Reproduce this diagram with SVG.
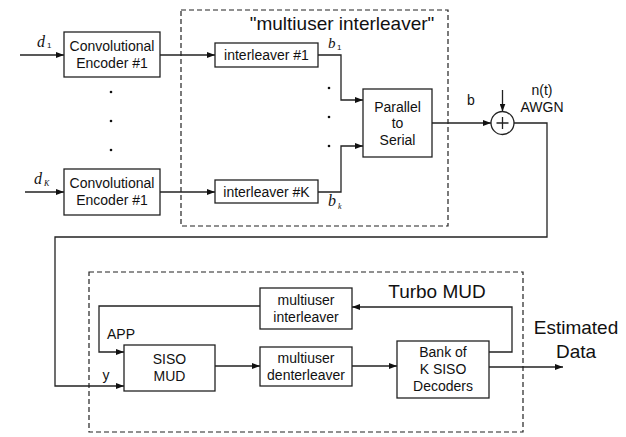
<svg xmlns="http://www.w3.org/2000/svg" width="626" height="437" viewBox="0 0 626 437">
<style>
.box{fill:#fff;stroke:#222;stroke-width:1.3}
.dash{fill:none;stroke:#222;stroke-width:1.2;stroke-dasharray:5,3}
.ln{fill:none;stroke:#222;stroke-width:1.3}
.arr{marker-end:url(#ah)}
text{font-family:"Liberation Sans",Arial,sans-serif;fill:#111}
.t{font-size:14px;text-anchor:middle}
.big{font-size:19px;text-anchor:middle}
.it{font-family:"Liberation Serif","Times New Roman",serif;font-style:italic}
.dot{fill:#111}
</style>
<defs>
<marker id="ah" markerWidth="8" markerHeight="6" refX="8" refY="3" orient="auto" markerUnits="userSpaceOnUse">
<path d="M0,0 L8,3 L0,6 z" fill="#111"/>
</marker>
</defs>

<rect class="dash" x="181" y="10" width="267" height="216"/>
<text class="big" x="342" y="29.5">"multiuser interleaver"</text>
<rect class="dash" x="89" y="272" width="434" height="160"/>
<text class="big" x="437" y="298">Turbo MUD</text>

<g id="connectors">
<line class="ln arr" x1="20" y1="55" x2="64" y2="55"/>
<line class="ln arr" x1="25" y1="192" x2="64" y2="192"/>
<line class="ln arr" x1="160" y1="55" x2="215" y2="55"/>
<line class="ln arr" x1="160" y1="192" x2="215" y2="192"/>
<polyline class="ln arr" points="318,55 341,55 341,100 363,100"/>
<polyline class="ln arr" points="318,192 341,192 341,146 363,146"/>
<line class="ln arr" x1="432" y1="123" x2="491" y2="123"/>
<line class="ln arr" x1="502.5" y1="90" x2="502.5" y2="111.5"/>
<polyline class="ln arr" points="514,123 547,123 547,237 55,237 55,386 124,386"/>
<polyline class="ln arr" points="260,306 99,306 99,352 124,352"/>
<line class="ln arr" x1="215" y1="366" x2="260" y2="366"/>
<line class="ln arr" x1="352" y1="366" x2="397" y2="366"/>
<polyline class="ln arr" points="489,352 512,352 512,307 352,307"/>
<line class="ln arr" x1="489" y1="367" x2="563" y2="367"/>
</g>

<g id="labels">
<text class="it" x="37" y="47" font-size="16">d</text><text x="47" y="48" font-size="8" font-family="Liberation Serif,serif">1</text>
<text class="it" x="34" y="184" font-size="16">d</text><text class="it" x="44" y="186" font-size="8">K</text>
<text class="it" x="328" y="48" font-size="15">b</text><text x="337" y="50" font-size="8" font-family="Liberation Serif,serif">1</text>
<text class="it" x="328" y="206" font-size="16">b</text><text class="it" x="338" y="209" font-size="8">k</text>
<text class="t" x="471" y="105">b</text>
<text class="t" x="542" y="95">n(t)</text>
<text class="t" x="542" y="112">AWGN</text>
<text class="t" x="121" y="339">APP</text>
<text class="t" x="106" y="380">y</text>
<text class="big" x="576" y="334">Estimated</text>
<text class="big" x="576" y="358">Data</text>
<circle class="dot" cx="111" cy="92" r="1.3"/>
<circle class="dot" cx="111" cy="121" r="1.3"/>
<circle class="dot" cx="111" cy="150" r="1.3"/>
<circle class="dot" cx="329" cy="88" r="1.3"/>
<circle class="dot" cx="329" cy="117" r="1.3"/>
<circle class="dot" cx="329" cy="146" r="1.3"/>
</g>

<g id="enc1"><rect class="box" x="64" y="32" width="96" height="45"/>
<text class="t" x="112" y="51">Convolutional</text><text class="t" x="112" y="68">Encoder #1</text></g>
<g id="encK"><rect class="box" x="64" y="169" width="96" height="46"/>
<text class="t" x="112" y="188">Convolutional</text><text class="t" x="112" y="205">Encoder #1</text></g>
<g id="int1"><rect class="box" x="215" y="43" width="103" height="24"/>
<text class="t" x="266.5" y="60">interleaver #1</text></g>
<g id="intK"><rect class="box" x="215" y="180" width="103" height="23"/>
<text class="t" x="266.5" y="197">interleaver #K</text></g>
<g id="p2s"><rect class="box" x="363" y="89" width="69" height="68"/>
<text class="t" x="397.5" y="112">Parallel</text><text class="t" x="397.5" y="128">to</text><text class="t" x="397.5" y="145">Serial</text></g>
<g id="sum"><circle class="box" cx="502.5" cy="123" r="11.5"/>
<path class="ln" d="M496.5,123 H508.5 M502.5,117 V129" stroke-width="2"/></g>
<g id="muint"><rect class="box" x="260" y="288" width="92" height="41"/>
<text class="t" x="306" y="305">multiuser</text><text class="t" x="306" y="322">interleaver</text></g>
<g id="mudeint"><rect class="box" x="260" y="347" width="92" height="39"/>
<text class="t" x="306" y="363">multiuser</text><text class="t" x="306" y="380">denterleaver</text></g>
<g id="siso"><rect class="box" x="124" y="345" width="91" height="46"/>
<text class="t" x="169.5" y="364">SISO</text><text class="t" x="169.5" y="381">MUD</text></g>
<g id="bank"><rect class="box" x="397" y="341" width="92" height="57"/>
<text class="t" x="443" y="357">Bank of</text><text class="t" x="443" y="374">K SISO</text><text class="t" x="443" y="391">Decoders</text></g>
</svg>
